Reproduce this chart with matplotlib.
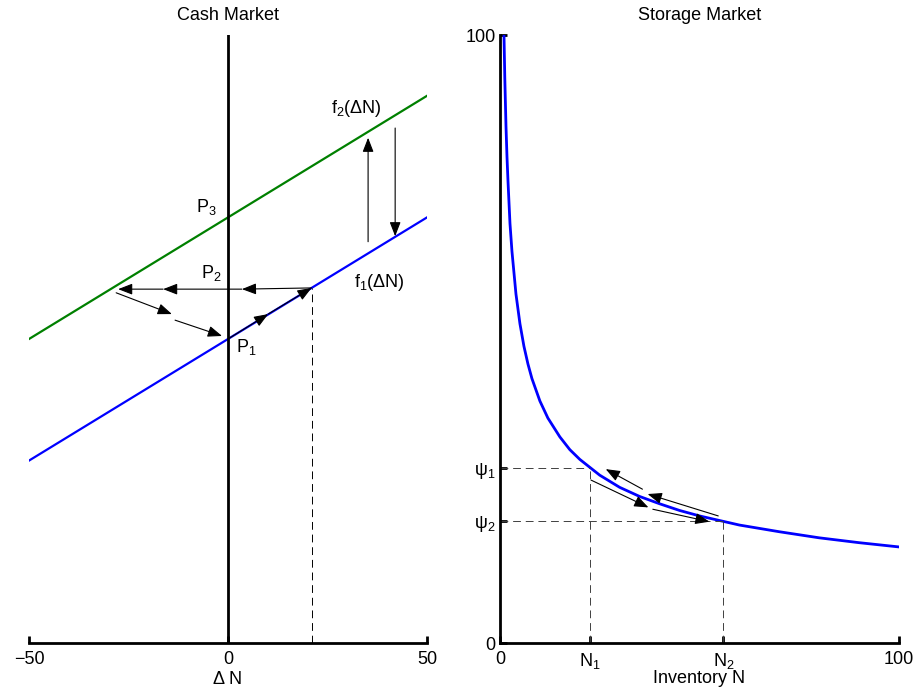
import matplotlib
matplotlib.use("Agg")
import matplotlib.pyplot as plt

plt.rcParams['font.family'] = ['Liberation Sans', 'DejaVu Sans']
plt.rcParams['font.size'] = 13
plt.rcParams['mathtext.fontset'] = 'custom'
plt.rcParams['mathtext.rm'] = 'Liberation Sans'
plt.rcParams['mathtext.it'] = 'Liberation Sans'
plt.rcParams['mathtext.default'] = 'rm'

# cash market: two supply lines f1, f2 (endpoints)
cash_x = [-50, 50]
f1_y = [30, 70]
f2_y = [50, 90]
cash_xticks = [-50, 0, 50]
trade_x = 21
trade_y = 58.4

# (tail, tip) pairs of the arrows in the cash market
cash_arrows = [
    ((0, 50), (10.1, 54.1)),
    ((10.1, 54.1), (21, 58.4)),
    ((21, 58.4), (3.5, 58.2)),
    ((3.5, 58.2), (-16.3, 58.2)),
    ((-16.3, 58.2), (-27.6, 58.2)),
    ((-28.1, 57.6), (-14.1, 54.1)),
    ((-13.3, 53.1), (-1.5, 50.5)),
    ((35.2, 66.0), (35.2, 83.1)),
    ((42.0, 84.7), (42.0, 66.9)),
]
cash_labels = [
    (25.9, 87.2, 'f$_2$(ΔN)'),
    (31.7, 58.6, 'f$_1$(ΔN)'),
    (-8.0, 70.9, 'P$_3$'),
    (-6.8, 60.0, 'P$_2$'),
    (2.0, 47.9, 'P$_1$'),
]

# storage market: demand curve
inv_n = [1, 1.2, 1.5, 1.75, 2, 2.5, 3, 4, 5, 6, 7, 8, 10, 12, 15, 17.5, 20,
         25, 30, 35, 40, 45, 50, 60, 70, 80, 90, 100]
psi = [100, 93, 85, 80, 76, 69, 64.4, 57.4, 52.5, 48.8, 45.9, 43.5, 39.8,
       37.0, 33.9, 31.8, 30.2, 27.6, 25.6, 24.1, 22.9, 21.8, 20.9, 19.4,
       18.3, 17.3, 16.5, 15.8]
n1, n2 = 22.6, 56.0
psi1, psi2 = 28.8, 20.0

storage_arrows = [
    ((35.7, 25.3), (26.5, 28.6)),
    ((54.7, 20.9), (37.0, 24.5)),
    ((22.8, 26.8), (37.2, 22.3)),
    ((38.3, 22.0), (52.5, 19.95)),
]


def draw_arrow(ax, tail, tip):
    ax.annotate('', xy=tip, xytext=tail,
                arrowprops=dict(arrowstyle='-|>,head_length=0.72,head_width=0.28',
                                lw=0.8, color='k', shrinkA=0, shrinkB=0,
                                mutation_scale=12))


fig = plt.figure(figsize=(9.18, 6.94), dpi=100)
ax1 = fig.add_axes([29 / 918, 51 / 694, 398 / 918, 608 / 694])
ax2 = fig.add_axes([500 / 918, 51 / 694, 399 / 918, 608 / 694])

# left panel
ax1.plot(cash_x, f1_y, color='#0000ff', lw=1.6)
ax1.plot(cash_x, f2_y, color='#008000', lw=1.6)
ax1.plot([0, 0], [0, 100], color='k', lw=2)
ax1.plot([trade_x, trade_x], [0, trade_y], color='k', lw=0.7, dashes=(8, 5))
for tail, tip in cash_arrows:
    draw_arrow(ax1, tail, tip)
for x, y, s in cash_labels:
    ax1.text(x, y, s, ha='left', va='baseline')

ax1.set_xlim(-50, 50)
ax1.set_ylim(0, 100)
for side in ['top', 'right', 'left']:
    ax1.spines[side].set_visible(False)
ax1.spines['bottom'].set_linewidth(2)
ax1.set_yticks([])
ax1.set_xticks(cash_xticks)
ax1.set_xticklabels(['\u221250', '0', '50'])
ax1.tick_params(axis='x', direction='in', length=5, width=2, pad=6)
ax1.set_xlabel('Δ N', labelpad=2)
ax1.set_title('Cash Market', fontsize=13, pad=10.5)

# right panel
ax2.plot(inv_n, psi, color='#0000ff', lw=2)
ax2.plot([0, n1], [psi1, psi1], color='0.25', lw=0.7, dashes=(8, 5))
ax2.plot([n1, n1], [0, psi1], color='0.25', lw=0.7, dashes=(8, 5))
ax2.plot([0, n2], [psi2, psi2], color='0.25', lw=0.7, dashes=(8, 5))
ax2.plot([n2, n2], [0, psi2], color='0.25', lw=0.7, dashes=(8, 5))
for tail, tip in storage_arrows:
    draw_arrow(ax2, tail, tip)

ax2.set_xlim(0, 100)
ax2.set_ylim(0, 100)
for side in ['top', 'right']:
    ax2.spines[side].set_visible(False)
for side in ['left', 'bottom']:
    ax2.spines[side].set_linewidth(2)
ax2.set_xticks([0, n1, n2, 100])
ax2.set_xticklabels(['0', 'N$_1$', 'N$_2$', '100'])
ax2.set_yticks([0, psi2, psi1, 100])
ax2.set_yticklabels(['0', 'ψ$_2$', 'ψ$_1$', '100'])
ax2.tick_params(axis='x', direction='in', length=5, width=2, pad=6)
ax2.tick_params(axis='y', direction='in', length=5, width=2, pad=3)
ax2.set_xlabel('Inventory N', labelpad=-1)
ax2.set_title('Storage Market', fontsize=13, pad=10.5)

fig.savefig('out.png', dpi=100)
